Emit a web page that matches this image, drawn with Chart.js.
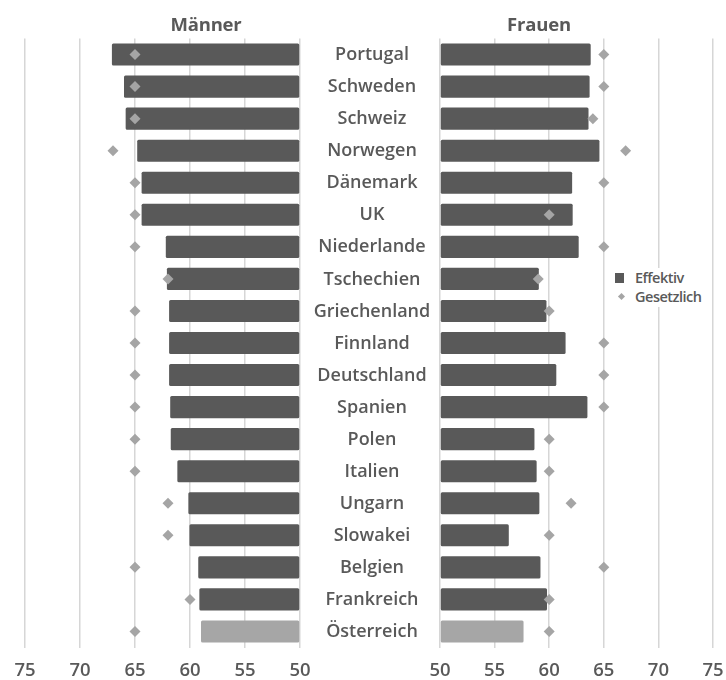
<!DOCTYPE html>
<html lang="de">
<head>
<meta charset="utf-8">
<title>Pensionsantrittsalter</title>
<script src="https://cdn.jsdelivr.net/npm/chart.js@4.4.1/dist/chart.umd.min.js"></script>
<style>
  html, body { margin: 0; padding: 0; background: #fff; }
  #wrap { position: relative; width: 726px; height: 680px; overflow: hidden;
          font-family: "Open Sans", Lato, sans-serif; color: #595959; }
  #left  { position: absolute; left: 0;     top: 0; }
  #right { position: absolute; left: 304px; top: 0; }
  .title { position: absolute; top: 14px; font-size: 18.5px; line-height: 20px; font-weight: bold;
           transform: translateX(-50%); white-space: nowrap; letter-spacing: -0.2px; }
  #legend { position: absolute; left: 610px; top: 268px; width: 101px; height: 39px;
            background: #fff; font-size: 14.5px; font-weight: 600; letter-spacing: -0.5px; line-height: 19px; }
  #legend .item { position: relative; height: 19px; padding-left: 25px; white-space: nowrap; }
  #legend .box { position: absolute; left: 5px; top: 5px; width: 9px; height: 10px; background: #595959; }
  #legend .dia { position: absolute; left: 9px; top: 7px; width: 5px; height: 5px; background: #a5a5a5;
                 transform: rotate(45deg); }
</style>
</head>
<body>
<div id="wrap">
  <canvas id="left" width="330" height="680"></canvas>
  <canvas id="right" width="434" height="680"></canvas>
  <div class="title" style="left:206px">Männer</div>
  <div class="title" style="left:539px">Frauen</div>
  <div id="legend">
    <div class="item"><span class="box"></span>Effektiv</div>
    <div class="item"><span class="dia"></span>Gesetzlich</div>
  </div>
</div>
<script>
// Länder (von oben nach unten)
const categories = ['Portugal', 'Schweden', 'Schweiz', 'Norwegen', 'Dänemark', 'UK', 'Niederlande',
  'Tschechien', 'Griechenland', 'Finnland', 'Deutschland', 'Spanien', 'Polen', 'Italien', 'Ungarn',
  'Slowakei', 'Belgien', 'Frankreich', 'Österreich'];

// Effektives und gesetzliches Pensionsantrittsalter
const maennerEffektiv   = [67.1, 66.0, 65.85, 64.8, 64.4, 64.4, 62.2, 62.1, 61.9, 61.9, 61.9, 61.8, 61.75, 61.15, 60.15, 60.05, 59.25, 59.15, 59.0];
const maennerGesetzlich = [65, 65, 65, 67, 65, 65, 65, 62, 65, 65, 65, 65, 65, 65, 62, 62, 65, 60, 65];
const frauenEffektiv    = [63.8, 63.7, 63.6, 64.6, 62.1, 62.15, 62.7, 59.05, 59.75, 61.5, 60.65, 63.5, 58.65, 58.85, 59.1, 56.3, 59.2, 59.8, 57.65];
const frauenGesetzlich  = [65, 65, 64, 67, 65, 60, 65, 59, 60, 65, 65, 65, 60, 60, 62, 60, 65, 60, 60];

// Achsenbeschriftung
const xTicks = [50, 55, 60, 65, 70, 75];

const highlighted = 'Österreich';
const FONT = '"Open Sans"';
const TEXT = '#595959';
const BAR = '#595959';
const BAR_HL = '#a6a6a6';
const MARK = '#a5a5a5';
const GRID = '#d6d6d6';

function barColor(ctx) {
  return categories[ctx.dataIndex] === highlighted ? BAR_HL : BAR;
}

function datasets(effektiv, gesetzlich) {
  return [
    {
      type: 'line', label: 'Gesetzlich', data: gesetzlich, order: 0,
      showLine: false, pointStyle: 'rectRot', pointRadius: 5.5, pointHoverRadius: 5.5,
      pointBackgroundColor: MARK, pointBorderWidth: 0, borderColor: MARK
    },
    {
      type: 'bar', label: 'Effektiv', data: effektiv, order: 1, base: 50,
      backgroundColor: barColor, borderWidth: 0, borderRadius: 1.5, borderSkipped: false,
      categoryPercentage: 1, barPercentage: 0.69
    }
  ];
}

function options(reverse, padding) {
  return {
    indexAxis: 'y',
    responsive: false,
    animation: false,
    events: [],
    layout: { padding },
    plugins: { legend: { display: false }, tooltip: { enabled: false } },
    scales: {
      x: {
        type: 'linear', min: 50, max: 75, reverse,
        afterBuildTicks: axis => { axis.ticks = xTicks.map(v => ({ value: v })); },
        afterFit: axis => { axis.height = 32.5; },
        ticks: { color: TEXT, padding: 12, font: { family: FONT, size: 18.5, weight: 600 } },
        grid: { color: GRID, lineWidth: 1.5, drawTicks: false },
        border: { display: false }
      },
      y: {
        type: 'category', labels: categories, display: false,
        grid: { display: false }
      }
    }
  };
}

// Ländernamen mittig zwischen den beiden Diagrammen
const categoryLabels = {
  id: 'categoryLabels',
  afterDraw(chart) {
    const { ctx, chartArea, scales } = chart;
    ctx.save();
    ctx.font = '600 18px ' + FONT;
    ctx.fillStyle = TEXT;
    ctx.textAlign = 'center';
    ctx.textBaseline = 'middle';
    categories.forEach((name, i) => {
      ctx.fillText(name, chartArea.left - 68, scales.y.getPixelForValue(i) + 0.5);
    });
    ctx.restore();
  }
};

new Chart(document.getElementById('left'), {
  data: { labels: categories, datasets: datasets(maennerEffektiv, maennerGesetzlich) },
  options: options(true, { left: 25, right: 30, top: 38.5, bottom: 0 })
});

new Chart(document.getElementById('right'), {
  data: { labels: categories, datasets: datasets(frauenEffektiv, frauenGesetzlich) },
  options: options(false, { left: 136, right: 25, top: 38.5, bottom: 0 }),
  plugins: [categoryLabels]
});
</script>
</body>
</html>
